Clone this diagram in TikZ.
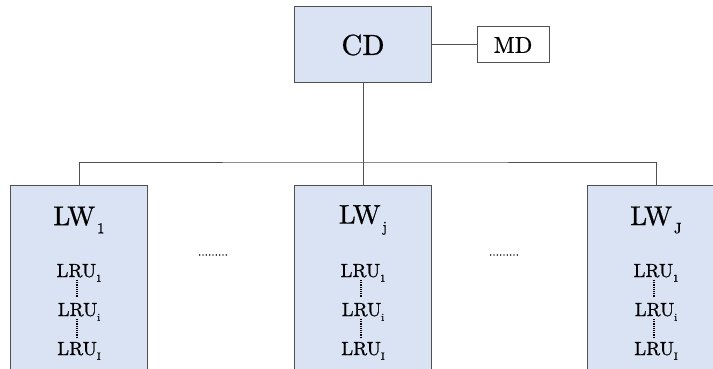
\documentclass[tikz,border=0pt]{standalone}
\usepackage{fontspec}
\setmainfont{lmroman10-regular.otf}[BoldFont=lmroman10-regular.otf, BoldFeatures={FakeBold=0.8}]
\definecolor{boxfill}{HTML}{DAE3F3}
\definecolor{edge}{HTML}{505050}
\tikzset{
  bluebox/.style={draw=edge, fill=boxfill, line width=1pt, inner sep=0pt},
  whitebox/.style={draw=edge, fill=white, line width=1pt, inner sep=0pt},
  conn/.style={draw=edge, line width=1pt},
  vdots/.style={line width=1.6pt, dash pattern=on 1.2pt off 1pt, black},
  lwtext/.style={font=\bfseries\fontsize{27}{29}\selectfont, inner sep=0pt},
  lrutext/.style={font=\bfseries\fontsize{19}{21}\selectfont, inner sep=0pt, anchor=base},
  dotstext/.style={font=\bfseries\fontsize{12}{12}\selectfont, inner sep=0pt}
}
\newcommand{\lwsub}[1]{LW\kern2pt\raisebox{-0.3em}{\fontsize{15}{15}\selectfont #1}}
\newcommand{\lrusub}[1]{LRU\raisebox{-0.25em}{\fontsize{10.5}{10.5}\selectfont #1}}
\begin{document}
\begin{tikzpicture}[x=1pt,y=-1pt]
\useasboundingbox (0,0) rectangle (713,369);
\clip (0,0) rectangle (713,369);
% top
\node[bluebox, minimum width=137pt, minimum height=76pt, font=\bfseries\fontsize{29}{31}\selectfont] (CD) at (363,45) {CD};
\node[whitebox, minimum width=72pt, minimum height=36pt, font=\bfseries\fontsize{23}{25}\selectfont] (MD) at (513,45) {MD};
\draw[conn] (CD.east) -- (MD.west);
% lower boxes
\foreach \n/\cx/\s in {A/79/1, B/363/j, C/656/J} {
  \node[bluebox, minimum width=137pt, minimum height=230pt, anchor=north] (LW\n) at (\cx,185) {};
  \node[lwtext] (LWt\n) at (\cx,220) {\lwsub{\s}};
  \node[lrutext] (R1\n) at (\cx,277) {\lrusub{1}};
  \node[lrutext] (Ri\n) at (\cx,316) {\lrusub{i}};
  \node[lrutext] (RI\n) at (\cx,355) {\lrusub{I}};
  \draw[vdots] ([xshift=-2pt]R1\n.base |- 0,280) -- ([xshift=-2pt]R1\n.base |- 0,297);
  \draw[vdots] ([xshift=-2pt]Ri\n.base |- 0,319) -- ([xshift=-2pt]Ri\n.base |- 0,337);
}
% connectors
\coordinate (bus) at (363,162);
\draw[conn] (LWA.north) |- (bus) -| (LWC.north);
\draw[conn] (CD.south) -- (LWB.north);
% ellipses between boxes
\node[dotstext] (dotsL) at (213,255) {.........};
\node[dotstext] (dotsR) at (504,255) {.........};
\end{tikzpicture}
\end{document}
